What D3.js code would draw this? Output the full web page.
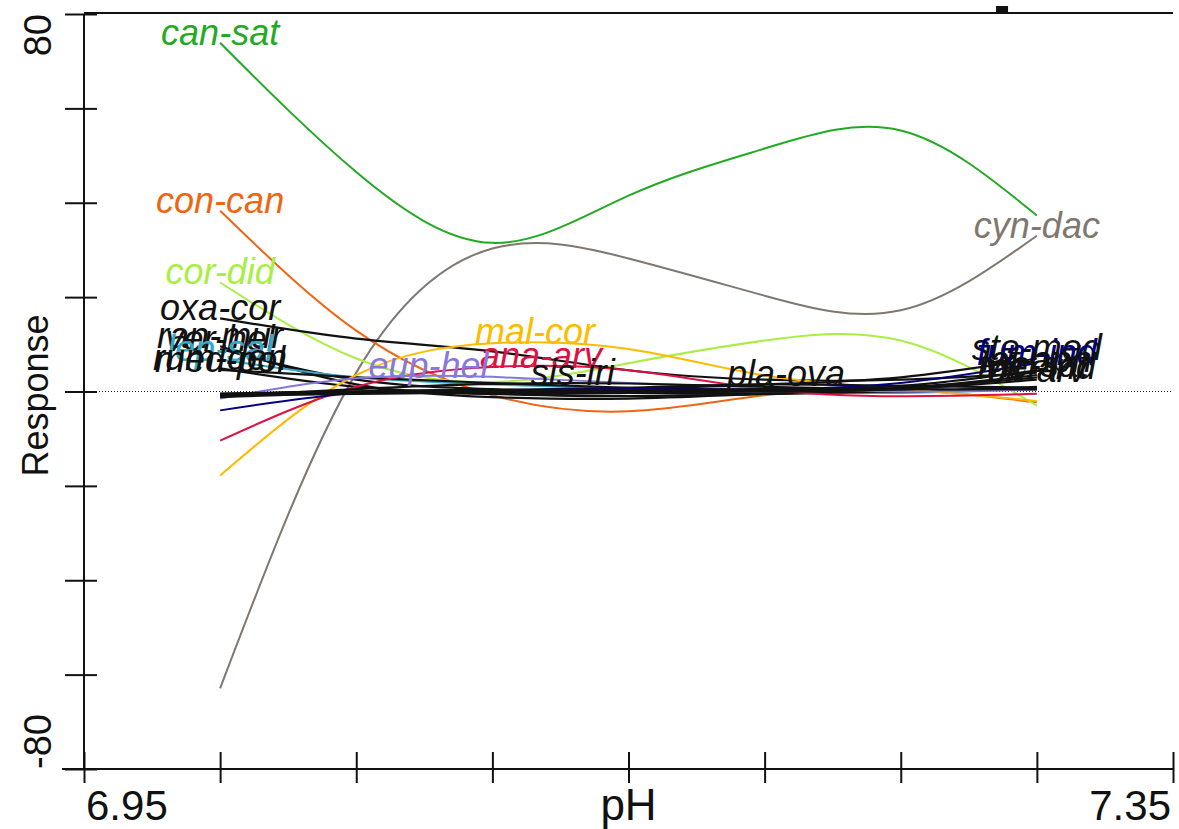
<!DOCTYPE html>
<html><head><meta charset="utf-8">
<script src="https://cdn.jsdelivr.net/npm/d3@7"></script>
<style>body{margin:0;background:#fff} svg{display:block}</style>
</head><body>
<svg id="chart" width="1179" height="829"></svg>
<script>
// ---- data ----
const phValues = [7.00, 7.05, 7.10, 7.15, 7.20, 7.25, 7.30];
const xTicks = [6.95, 7.00, 7.05, 7.10, 7.15, 7.20, 7.25, 7.30, 7.35];
const xTickLabels = ["6.95", "7.35"];
const yTicks = [-80, -60, -40, -20, 0, 20, 40, 60, 80];
const yTickLabels = ["80", "-80"];

const speciesNames = ["can-sat","cyn-dac","con-can","cor-did","oxa-cor","ran-mur","ver-hel","lep-sal","med-pol","rum-den",
  "mal-cor","ana-arv","eup-hel","sis-iri","pla-ova","ste-med","fum-ind","lat-aph","vic-sat","mel-ind","cir-arv"];
const speciesColors = ["#22aa22","#7f7870","#ee6611","#aaee44","#111111","#111111","#111111","#33aacc","#111111","#111111",
  "#ffbb00","#dd1144","#8877dd","#111111","#111111","#111111","#000080","#111111","#111111","#111111","#111111"];

const canSat = [73.9, 46.5, 31.5, 41.5, 51.5, 55.3, 37.3];
const cynDac = [-62.9, 4.0, 30.3, 28.2, 20.3, 17.2, 33.0];
const conCan = [38.3, 12.9, -0.8, -4.2, -0.8, 0.4, -2.3];
const corDid = [23.1, 7.0, 2.0, 6.0, 10.8, 10.8, -3.0];
const oxaCor = [15.5, 11.2, 8.5, 4.5, 2.5, 2.5, 4.0];
const ranMur = [9.6, 1.5, -1.2, -1.5, -0.5, 0.2, 0.5];
const verHel = [9.0, 2.5, 0.5, -0.3, -0.5, 0.0, 0.8];
const lepSal = [6.8, 3.0, 1.5, 0.5, 0.0, -0.3, 0.5];
const medPol = [4.6, 3.0, 1.8, 0.8, 0.2, 0.0, 1.0];
const rumDen = [4.9, 1.0, -0.5, -1.0, -0.5, 0.0, 0.5];
const malCor = [-17.8, 3.5, 10.2, 9.0, 3.4, 0.6, -2.0];
const anaArv = [-10.4, 1.0, 5.2, 4.5, 0.5, -1.0, -0.5];
const eupHel = [-1.5, 2.8, 3.1, 1.8, 0.8, 0.0, 0.5];
const sisIri = [-1.0, 0.5, 1.6, 1.7, 1.0, 0.5, 0.5];
const plaOva = [-0.5, 0.0, 0.3, 0.8, 1.5, 1.2, 0.8];
const steMed = [-0.5, -0.3, 0.0, 0.5, 1.5, 3.0, 7.0];
const fumInd = [-4.0, -0.3, 0.3, 0.5, 0.5, 1.8, 6.0];
const latAph = [-1.0, 0.0, 0.3, 0.3, 0.5, 1.2, 4.5];
const vicSat = [-0.8, -0.5, -0.2, 0.0, 0.3, 0.8, 3.5];
const melInd = [-1.2, -0.3, 0.0, 0.0, 0.0, 0.6, 3.0];
const cirArv = [-0.5, 0.0, -0.5, -0.3, 0.0, 0.5, 2.5];

const speciesValues = [canSat, cynDac, conCan, corDid, oxaCor, ranMur, verHel, lepSal, medPol, rumDen,
  malCor, anaArv, eupHel, sisIri, plaOva, steMed, fumInd, latAph, vicSat, melInd, cirArv];

// ---- chart ----
const svg = d3.select("#chart");
const pLeft = 84, pRight = 1173, pTop = 14, pBottom = 769;
const x = d3.scaleLinear().domain([6.95, 7.35]).range([pLeft, pRight]);
const y = d3.scaleLinear().domain([-80, 80]).range([pBottom, pTop]);
const font = "'Liberation Sans', Arial, sans-serif";

// zero reference line
svg.append("line").attr("x1", pLeft).attr("x2", pRight).attr("y1", y(0)).attr("y2", y(0))
  .attr("stroke", "#222").attr("stroke-width", 1).attr("stroke-dasharray", "1,2");

// curves
const line = d3.line().x((d, i) => x(phValues[i])).y(d => y(d)).curve(d3.curveNatural);
const g = svg.append("g");
const paths = speciesValues.map((vals, k) =>
  g.append("path").attr("d", line(vals)).attr("fill", "none")
    .attr("stroke", speciesColors[k]).attr("stroke-width", speciesColors[k] === "#111111" ? 2.2 : 2)
);

// labels at the highest point of each curve
const lg = svg.append("g");
paths.forEach((p, k) => {
  const node = p.node();
  const L = node.getTotalLength();
  let best = node.getPointAtLength(0);
  for (let s = 0; s <= L; s += 1) {
    const pt = node.getPointAtLength(s);
    if (pt.y < best.y) best = pt;
  }
  const end = node.getPointAtLength(L);
  if (end.y < best.y) best = end;
  lg.append("text").attr("x", best.x).attr("y", best.y + 2)
    .attr("text-anchor", "middle").attr("font-family", font).attr("font-style", "italic")
    .attr("font-size", 36).attr("fill", speciesColors[k]).text(speciesNames[k]);
});

// axes
const ax = svg.append("g").attr("stroke", "#111").attr("stroke-width", 2);
ax.append("line").attr("x1", pLeft).attr("x2", pLeft).attr("y1", pTop).attr("y2", pBottom);
ax.append("line").attr("x1", 62).attr("x2", pRight).attr("y1", pBottom).attr("y2", pBottom);
ax.append("line").attr("x1", pLeft).attr("x2", pRight).attr("y1", 13).attr("y2", 13);

const yl = svg.append("g").attr("transform", `translate(${pLeft},0)`)
  .call(d3.axisLeft(y).tickValues(yTicks).tickSize(19).tickSizeOuter(0).tickFormat(""));
const yr = svg.append("g").attr("transform", `translate(${pLeft},0)`)
  .call(d3.axisRight(y).tickValues(yTicks).tickSize(13).tickSizeOuter(0).tickFormat(""));
const xb = svg.append("g").attr("transform", `translate(0,${pBottom})`)
  .call(d3.axisBottom(x).tickValues(xTicks).tickSize(14).tickSizeOuter(0).tickFormat(""));
const xt = svg.append("g").attr("transform", `translate(0,${pBottom})`)
  .call(d3.axisTop(x).tickValues(xTicks).tickSize(17).tickSizeOuter(0).tickFormat(""));
[yl, yr, xb, xt].forEach(a => {
  a.select(".domain").remove();
  a.selectAll(".tick line").attr("stroke", "#111").attr("stroke-width", 2);
});

// tick labels
svg.append("text").attr("x", x(6.95) + 2).attr("y", 820).attr("font-family", font).attr("font-size", 42)
  .attr("fill", "#111").text(xTickLabels[0]);
svg.append("text").attr("x", x(7.35) - 2).attr("y", 820).attr("text-anchor", "end").attr("font-family", font)
  .attr("font-size", 42).attr("fill", "#111").text(xTickLabels[1]);
svg.append("text").attr("x", x(7.15)).attr("y", 820).attr("text-anchor", "middle").attr("font-family", font)
  .attr("font-size", 44).attr("fill", "#111").text("pH");

svg.append("text").attr("transform", `translate(51,${y(80)}) rotate(-90)`).attr("text-anchor", "end")
  .attr("font-family", font).attr("font-size", 38).attr("fill", "#111").text(yTickLabels[0]);
svg.append("text").attr("transform", `translate(51,${y(-80)}) rotate(-90)`).attr("text-anchor", "start")
  .attr("font-family", font).attr("font-size", 38).attr("fill", "#111").text(yTickLabels[1]);
svg.append("text").attr("transform", `translate(48,${y(0) + 4}) rotate(-90)`).attr("text-anchor", "middle")
  .attr("font-family", font).attr("font-size", 36).attr("fill", "#111").text("Response");

// small mark at top
svg.append("rect").attr("x", x(7.285)).attr("y", 6).attr("width", 12).attr("height", 7).attr("fill", "#111");
</script>
</body></html>
